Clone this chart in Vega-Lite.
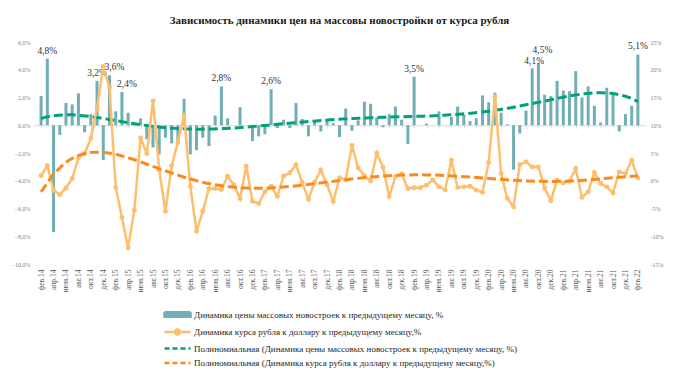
{
  "$schema": "https://vega.github.io/schema/vega-lite/v6.json",
  "width": 613,
  "height": 222,
  "autosize": {"type": "none"},
  "padding": {"left": 33, "top": 42, "right": 32, "bottom": 120},
  "background": "white",
  "title": {"text": "Зависимость динамики цен на массовы новостройки от курса рубля", "font": "Liberation Serif", "fontSize": 11, "fontWeight": "bold", "color": "#1a1a1a", "anchor": "middle", "baseline": "alphabetic", "offset": 4},
  "config": {"view": {"stroke": null}, "axisX": {"labelOverlap": false}},
  "data": {"values": [
    {"n":0,"p":2.1,"r":0.9},
    {"n":1,"p":4.8,"r":2.7,"lbl":"4,8%"},
    {"n":2,"p":-7.7,"r":-1.7},
    {"n":3,"p":-0.7,"r":-2.5},
    {"n":4,"p":1.6,"r":-1.3},
    {"n":5,"p":1.5,"r":0.4},
    {"n":6,"p":2.3,"r":4.1},
    {"n":7,"p":-0.5,"r":4.9},
    {"n":8,"p":0.8,"r":7.6},
    {"n":9,"p":3.2,"r":13.2,"lbl":"3,2%"},
    {"n":10,"p":-2.5,"r":20.6},
    {"n":11,"p":3.6,"r":16.8,"lbl":"3,6%"},
    {"n":12,"p":1.0,"r":-1.2},
    {"n":13,"p":2.4,"r":-6.6,"lbl":"2,4%"},
    {"n":14,"p":0.9,"r":-12.1},
    {"n":15,"p":0.1,"r":-5.3},
    {"n":16,"p":0.5,"r":7.7},
    {"n":17,"p":-1.0,"r":4.9},
    {"n":18,"p":-1.6,"r":14.4},
    {"n":19,"p":-2.1,"r":1.9},
    {"n":20,"p":-0.9,"r":-5.5},
    {"n":21,"p":-1.3,"r":2.7},
    {"n":22,"p":-1.4,"r":7.0},
    {"n":23,"p":1.9,"r":11.8},
    {"n":24,"p":-2.1,"r":-1.0},
    {"n":25,"p":-1.8,"r":-9.1},
    {"n":26,"p":-0.9,"r":-5.5},
    {"n":27,"p":-1.5,"r":-1.4},
    {"n":28,"p":0.7,"r":-1.4},
    {"n":29,"p":2.8,"r":-1.6,"lbl":"2,8%"},
    {"n":30,"p":0.5,"r":0.8},
    {"n":31,"p":0.0,"r":-0.7},
    {"n":32,"p":1.3,"r":-3.2},
    {"n":33,"p":0.0,"r":2.6},
    {"n":34,"p":-1.15,"r":-3.7},
    {"n":35,"p":-0.8,"r":-4.1},
    {"n":36,"p":-0.65,"r":-2.0},
    {"n":37,"p":2.6,"r":-1.0,"lbl":"2,6%"},
    {"n":38,"p":-0.2,"r":-2.8},
    {"n":39,"p":0.4,"r":0.8},
    {"n":40,"p":-0.2,"r":1.45},
    {"n":41,"p":1.6,"r":2.9},
    {"n":42,"p":0.45,"r":-0.3},
    {"n":43,"p":-0.8,"r":-3.35},
    {"n":44,"p":0.3,"r":-0.25},
    {"n":45,"p":-0.45,"r":1.95},
    {"n":46,"p":0.35,"r":-0.75},
    {"n":47,"p":0.15,"r":-3.75},
    {"n":48,"p":-0.85,"r":0.55},
    {"n":49,"p":1.2,"r":0.2},
    {"n":50,"p":-0.4,"r":6.35},
    {"n":51,"p":0.35,"r":2.3},
    {"n":52,"p":1.7,"r":0.9},
    {"n":53,"p":1.55,"r":-0.05},
    {"n":54,"p":0.55,"r":4.95},
    {"n":55,"p":-0.15,"r":2.4},
    {"n":56,"p":0.8,"r":-2.85},
    {"n":57,"p":1.35,"r":0.75},
    {"n":58,"p":0.4,"r":1.25},
    {"n":59,"p":-1.35,"r":-1.4},
    {"n":60,"p":3.5,"r":-1.25,"lbl":"3,5%"},
    {"n":61,"p":0.0,"r":-1.25},
    {"n":62,"p":0.12,"r":-0.8},
    {"n":63,"p":0.0,"r":0.15},
    {"n":64,"p":1.0,"r":-1.1},
    {"n":65,"p":0.0,"r":-1.65},
    {"n":66,"p":0.6,"r":3.7},
    {"n":67,"p":1.35,"r":-1.2},
    {"n":68,"p":0.75,"r":-1.1},
    {"n":69,"p":0.3,"r":-1.0},
    {"n":70,"p":0.5,"r":-1.7},
    {"n":71,"p":2.15,"r":-2.1},
    {"n":72,"p":1.65,"r":3.3},
    {"n":73,"p":2.35,"r":15.2},
    {"n":74,"p":0.9,"r":1.3},
    {"n":75,"p":0.07,"r":-3.2},
    {"n":76,"p":-3.2,"r":-4.7},
    {"n":77,"p":-0.6,"r":2.9},
    {"n":78,"p":1.05,"r":3.4},
    {"n":79,"p":4.1,"r":2.5,"lbl":"4,1%"},
    {"n":80,"p":4.5,"r":2.5,"lbl":"4,5%"},
    {"n":81,"p":2.2,"r":-1.3},
    {"n":82,"p":2.1,"r":-3.6},
    {"n":83,"p":3.2,"r":0.1},
    {"n":84,"p":2.5,"r":-0.4},
    {"n":85,"p":2.45,"r":-0.1},
    {"n":86,"p":3.9,"r":2.2},
    {"n":87,"p":2.0,"r":-3.0},
    {"n":88,"p":2.8,"r":-2.0},
    {"n":89,"p":1.4,"r":1.5},
    {"n":90,"p":0.2,"r":-0.5},
    {"n":91,"p":2.7,"r":-1.1},
    {"n":92,"p":2.2,"r":-2.2},
    {"n":93,"p":-0.45,"r":1.6},
    {"n":94,"p":0.8,"r":1.3},
    {"n":95,"p":1.4,"r":3.7},
    {"n":96,"p":5.1,"r":0.5,"lbl":"5,1%"}
  ]},
  "resolve": {"scale": {"y": "independent"}, "axis": {"x": "independent", "y": "independent"}},
  "layer": [
    {
      "layer": [
        {
          "mark": {"type": "bar", "size": 3, "orient": "vertical"},
          "encoding": {
            "x": {"field": "n", "type": "quantitative", "scale": {"domain": [-0.5, 96.5], "nice": false, "zero": false},
              "axis": {"values": [0,2,4,6,8,10,12,14,16,18,20,22,24,26,28,30,32,34,36,38,40,42,44,46,48,50,52,54,56,58,60,62,64,66,68,70,72,74,76,78,80,82,84,86,88,90,92,94,96],
                "tickCount": 200,
                "labelExpr": "['янв','фев','мар','апр','май','июн','июл','авг','сен','окт','ноя','дек'][(datum.value+1)%12] + '.' + (14 + floor((datum.value+1)/12))",
                "labelAngle": -90, "labelFont": "Liberation Serif", "labelFontSize": 7.5, "labelColor": "#595959", "labelOverlap": false, "labelFlush": false, "labelBound": false,
                "domain": false, "ticks": false, "grid": false, "title": null, "labelPadding": 5}},
            "y": {"field": "p", "type": "quantitative", "scale": {"domain": [-10, 6], "nice": false},
              "axis": {"values": [-10,-8,-6,-4,-2,0,2,4,6], "tickCount": 50, "labelOverlap": false, "labelExpr": "replace(format(datum.value, '.1f'), '.', ',') + '%'",
                "domain": false, "ticks": false, "grid": false, "title": null, "labelFont": "Liberation Serif", "labelFontSize": 6, "labelColor": "#7f7f7f", "labelPadding": 3}},
            "color": {"datum": "Динамика цены массовых новостроек к предыдущему месяцу, %", "type": "nominal",
              "scale": {"domain": ["Динамика цены массовых новостроек к предыдущему месяцу, %", "Динамика курса рубля к доллару к предыдущему месяцу,%", "Полиномиальная (Динамика цены массовых новостроек к предыдущему месяцу, %)", "Полиномиальная (Динамика курса рубля к доллару к предыдущему месяцу,%)"],
                "range": ["#72aeb5", "#fdbe6e", "#00a27a", "#fb8a1a"]},
              "legend": {"orient": "none", "legendX": 130, "legendY": 266, "title": null, "direction": "vertical", "padding": 0,
                "symbolSize": 100, "labelOffset": 18, "rowPadding": 2.5, "labelFont": "Liberation Serif", "labelFontSize": 9, "labelColor": "#262626", "labelLimit": 600,
                "encoding": {"symbols": {
                  "shape": {"value": {"expr": "['M-1,-0.45H4.2V0.45H-1Z','M-1,0H4.2M1.1,0A0.5,0.5 0 1,0 2.1,0A0.5,0.5 0 1,0 1.1,0','M-1,0H4.2','M-1,0H4.2'][datum.index]"}},
                  "fill": {"value": {"expr": "['#72aeb5','#fdbe6e','transparent','transparent'][datum.index]"}},
                  "stroke": {"value": {"expr": "['transparent','#fdbe6e','#00a27a','#fb8a1a'][datum.index]"}},
                  "strokeWidth": {"value": 2.5},
                  "strokeDash": {"value": {"expr": "datum.index >= 2 ? [5,3] : [1,0]"}},
                  "opacity": {"value": 1}
                }}}}
          }
        },
        {
          "transform": [{"regression": "p", "on": "n", "method": "poly", "order": 6}],
          "mark": {"type": "line", "strokeWidth": 3, "strokeDash": [9, 4]},
          "encoding": {
            "x": {"field": "n", "type": "quantitative"},
            "y": {"field": "p", "type": "quantitative"},
            "color": {"datum": "Полиномиальная (Динамика цены массовых новостроек к предыдущему месяцу, %)", "type": "nominal"}
          }
        },
        {
          "transform": [{"filter": "datum.lbl"}],
          "mark": {"type": "text", "baseline": "alphabetic", "dy": {"expr": "datum.n == 80 ? -10 : datum.n == 79 ? -4 : -5"}, "dx": {"expr": "datum.n == 11 ? 5 : datum.n == 13 ? 5 : datum.n == 80 ? 4 : datum.n == 79 ? 2 : 0"}, "font": "Liberation Serif", "fontSize": 9.5, "color": "#333333"},
          "encoding": {
            "x": {"field": "n", "type": "quantitative"},
            "y": {"field": "p", "type": "quantitative"},
            "text": {"field": "lbl"}
          }
        }
      ]
    },
    {
      "layer": [
        {
          "mark": {"type": "line", "strokeWidth": 2.5, "point": {"filled": true, "size": 24}},
          "encoding": {
            "x": {"field": "n", "type": "quantitative",
              "axis": {"orient": "bottom", "offset": -138.75, "labels": false, "domain": true, "domainColor": "#d9d9d9", "ticks": true, "tickColor": "#d9d9d9", "tickSize": 3, "grid": false, "title": null, "tickCount": 200,
                "values": [0,2,4,6,8,10,12,14,16,18,20,22,24,26,28,30,32,34,36,38,40,42,44,46,48,50,52,54,56,58,60,62,64,66,68,70,72,74,76,78,80,82,84,86,88,90,92,94,96]}},
            "y": {"field": "r", "type": "quantitative", "scale": {"domain": [-15, 25], "nice": false},
              "axis": {"orient": "right", "values": [-15,-10,-5,0,5,10,15,20,25], "tickCount": 50, "labelOverlap": false, "labelExpr": "datum.value + '%'",
                "domain": false, "ticks": false, "grid": false, "title": null, "labelFont": "Liberation Serif", "labelFontSize": 6, "labelColor": "#7f7f7f", "labelPadding": 4}},
            "color": {"datum": "Динамика курса рубля к доллару к предыдущему месяцу,%", "type": "nominal"}
          }
        },
        {
          "transform": [{"regression": "r", "on": "n", "method": "poly", "order": 6}],
          "mark": {"type": "line", "strokeWidth": 3, "strokeDash": [9, 4]},
          "encoding": {
            "x": {"field": "n", "type": "quantitative"},
            "y": {"field": "r", "type": "quantitative"},
            "color": {"datum": "Полиномиальная (Динамика курса рубля к доллару к предыдущему месяцу,%)", "type": "nominal"}
          }
        }
      ]
    }
  ]
}
